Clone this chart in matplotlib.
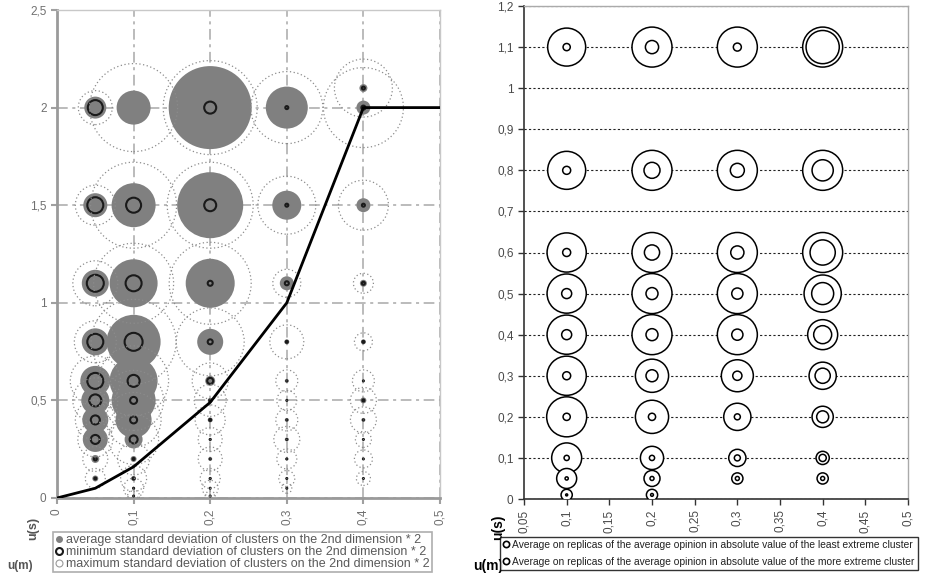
import numpy as np
import matplotlib.pyplot as plt
from matplotlib.lines import Line2D

plt.rcParams['font.family'] = ['Liberation Sans', 'DejaVu Sans']

# ---- left chart: std dev of clusters on 2nd dimension * 2 (bubble values) ----
left_um = [0.05, 0.1, 0.2, 0.3, 0.4]
left_us = [
    [2, 1.5, 1.1, 0.8, 0.6, 0.5, 0.4, 0.3, 0.2, 0.1],
    [2, 1.5, 1.1, 0.8, 0.6, 0.5, 0.4, 0.3, 0.2, 0.1, 0.05, 0.01],
    [2, 1.5, 1.1, 0.8, 0.6, 0.5, 0.4, 0.3, 0.2, 0.1, 0.05, 0.01],
    [2, 1.5, 1.1, 0.8, 0.6, 0.5, 0.4, 0.3, 0.2, 0.1, 0.05],
    [2.1, 2, 1.5, 1.1, 0.8, 0.6, 0.5, 0.4, 0.3, 0.2, 0.1],
]
avg_sd = [
    [0.22, 0.24, 0.27, 0.27, 0.30, 0.28, 0.26, 0.25, 0.08, 0.06],
    [0.34, 0.44, 0.48, 0.54, 0.48, 0.44, 0.36, 0.18, 0.06, 0.05, 0.03, 0.02],
    [0.83, 0.66, 0.49, 0.26, 0.10, 0.05, 0.05, 0.03, 0.04, 0.03, 0.02, 0.02],
    [0.42, 0.29, 0.14, 0.05, 0.04, 0.02, 0.04, 0.04, 0.03, 0.02, 0.02],
    [0.08, 0.14, 0.14, 0.07, 0.05, 0.02, 0.06, 0.04, 0.02, 0.01, 0.01],
]
min_sd = [
    [0.15, 0.16, 0.17, 0.16, 0.16, 0.12, 0.09, 0.09, 0.03, 0.02],
    [0.0, 0.15, 0.16, 0.18, 0.12, 0.07, 0.07, 0.08, 0.02, 0.02, 0.01, 0.01],
    [0.12, 0.12, 0.05, 0.05, 0.06, 0.02, 0.02, 0.01, 0.01, 0.01, 0.01, 0.01],
    [0.03, 0.03, 0.04, 0.02, 0.01, 0.01, 0.01, 0.01, 0.01, 0.01, 0.01],
    [0.03, 0.04, 0.03, 0.03, 0.02, 0.01, 0.02, 0.01, 0.01, 0.01, 0.01],
]
max_sd = [
    [0.34, 0.40, 0.45, 0.42, 0.50, 0.45, 0.40, 0.35, 0.25, 0.20],
    [0.88, 0.86, 0.80, 0.85, 0.70, 0.60, 0.55, 0.50, 0.32, 0.26, 0.20, 0.12],
    [0.94, 0.86, 0.82, 0.68, 0.36, 0.32, 0.30, 0.24, 0.24, 0.20, 0.16, 0.10],
    [0.72, 0.58, 0.28, 0.34, 0.22, 0.20, 0.22, 0.26, 0.20, 0.16, 0.10],
    [0.58, 0.80, 0.50, 0.20, 0.18, 0.22, 0.26, 0.26, 0.16, 0.18, 0.14],
]
border_um = [0, 0.05, 0.1, 0.2, 0.3, 0.4, 0.5]
border_us = [0, 0.05, 0.16, 0.49, 1.0, 2.0, 2.0]

# ---- right chart: average opinion in absolute value (bubble values) ----
right_um = [0.1, 0.2, 0.3, 0.4]
right_us = [
    [1.1, 0.8, 0.6, 0.5, 0.4, 0.3, 0.2, 0.1, 0.05, 0.01],
    [1.1, 0.8, 0.6, 0.5, 0.4, 0.3, 0.2, 0.1, 0.05, 0.01],
    [1.1, 0.8, 0.6, 0.5, 0.4, 0.3, 0.2, 0.1, 0.05],
    [1.1, 0.8, 0.6, 0.5, 0.4, 0.3, 0.2, 0.1, 0.05],
]
least_extreme = [
    [0.18, 0.20, 0.20, 0.25, 0.25, 0.20, 0.18, 0.13, 0.08, 0.05],
    [0.33, 0.40, 0.38, 0.30, 0.30, 0.30, 0.18, 0.13, 0.10, 0.07],
    [0.20, 0.35, 0.33, 0.28, 0.28, 0.23, 0.15, 0.15, 0.10],
    [0.83, 0.53, 0.63, 0.55, 0.45, 0.38, 0.30, 0.18, 0.10],
]
more_extreme = [
    [0.95, 0.95, 0.98, 0.98, 0.98, 0.98, 1.00, 0.75, 0.50, 0.28],
    [1.00, 1.00, 1.00, 1.00, 1.00, 0.83, 0.83, 0.58, 0.40, 0.28],
    [1.00, 1.00, 1.00, 1.00, 1.00, 0.80, 0.68, 0.43, 0.28],
    [1.00, 1.00, 1.00, 0.93, 0.75, 0.68, 0.53, 0.33, 0.28],
]

left_labels = ['average standard deviation of clusters on the 2nd dimension * 2',
               'minimum standard deviation of clusters on the 2nd dimension * 2',
               'maximum standard deviation of clusters on the 2nd dimension * 2']
right_labels = ['Average on replicas of the average opinion in absolute value of the least extreme cluster',
                'Average on replicas of the average opinion in absolute value of the more extreme cluster']


def area(vals, px):
    # bubble diameter in pixels -> scatter area in pt^2 (dpi 100)
    return (np.asarray(vals, dtype=float) * px * 0.72) ** 2


fig = plt.figure(figsize=(9.26, 5.76), dpi=100)

# ================= left =================
ax = fig.add_axes([57 / 926, 1 - 498 / 576, 383 / 926, 488 / 576])
grey_txt = '#707070'
for i, um in enumerate(left_um):
    xs = [um] * len(left_us[i])
    ax.scatter(xs, left_us[i], s=area(avg_sd[i], 100), color='#808080', lw=0, zorder=3)
for i, um in enumerate(left_um):
    xs = [um] * len(left_us[i])
    ax.scatter(xs, left_us[i], s=area(min_sd[i], 100), facecolors='none',
               edgecolors='#1a1a1a', linewidths=1.5, zorder=4)
for i, um in enumerate(left_um):
    xs = [um] * len(left_us[i])
    ax.scatter(xs, left_us[i], s=area(max_sd[i], 100), facecolors='none',
               edgecolors='#8c8c8c', linewidths=0.9, linestyles=(0, (1, 2)), zorder=5)
ax.plot(border_um, border_us, color='black', lw=2, zorder=6)

ax.set_xlim(0, 0.5)
ax.set_ylim(0, 2.5)
ax.set_xticks([0, 0.1, 0.2, 0.3, 0.4, 0.5])
ax.set_xticklabels(['0', '0,1', '0,2', '0,3', '0,4', '0,5'], rotation=90)
ax.set_yticks([0, 0.5, 1, 1.5, 2, 2.5])
ax.set_yticklabels(['0', '0,5', '1', '1,5', '2', '2,5'])
ax.tick_params(labelsize=8.5, colors='#a0a0a0', labelcolor=grey_txt, length=4, width=1.5)
ax.grid(True, color='#a8a8a8', lw=1.1, ls=(0, (7, 3, 2, 3)), zorder=1)
ax.set_axisbelow(True)
for side in ['left', 'bottom']:
    ax.spines[side].set_color('#9a9a9a')
    ax.spines[side].set_linewidth(2)
for side in ['top', 'right']:
    ax.spines[side].set_color('#c8c8c8')
    ax.spines[side].set_linewidth(1)

fig.text(33 / 926, 1 - 528 / 576, 'u(s)', rotation=90, ha='center', va='center',
         fontsize=9, fontweight='bold', color='#555555')
fig.text(20 / 926, 1 - 566 / 576, 'u(m)', ha='center', va='center',
         fontsize=8.5, fontweight='bold', color='#555555')

lh = [Line2D([], [], ls='none', marker='o', ms=4, mfc='#808080', mec='#808080'),
      Line2D([], [], ls='none', marker='o', ms=5, mfc='none', mec='#1a1a1a', mew=1.5),
      Line2D([], [], ls='none', marker='o', ms=5, mfc='none', mec='#9a9a9a', mew=0.8)]
leg = fig.legend(lh, left_labels, loc='upper left', bbox_to_anchor=(53 / 926, 1 - 532 / 576),
                 fontsize=9, frameon=True, fancybox=False, edgecolor='#9a9a9a',
                 borderpad=0.15, labelspacing=0.02, handlelength=0.6, handletextpad=0.3,
                 borderaxespad=0)
leg.get_frame().set_linewidth(1.2)
for t in leg.get_texts():
    t.set_color('#5a5a5a')

# ================= right =================
ax2 = fig.add_axes([524 / 926, 1 - 499 / 576, 384 / 926, 493 / 576])
for i, um in enumerate(right_um):
    xs = [um] * len(right_us[i])
    ax2.scatter(xs, right_us[i], s=area(more_extreme[i], 40), facecolors='white',
                edgecolors='black', linewidths=1.1, zorder=3)
    ax2.scatter(xs, right_us[i], s=area(least_extreme[i], 40), facecolors='none',
                edgecolors='black', linewidths=1.1, zorder=4)

ax2.set_xlim(0.05, 0.5)
ax2.set_ylim(0, 1.2)
xt = [0.05, 0.1, 0.15, 0.2, 0.25, 0.3, 0.35, 0.4, 0.45, 0.5]
ax2.set_xticks(xt)
ax2.set_xticklabels(['0,05', '0,1', '0,15', '0,2', '0,25', '0,3', '0,35', '0,4', '0,45', '0,5'],
                    rotation=90)
yt = [0, 0.1, 0.2, 0.3, 0.4, 0.5, 0.6, 0.7, 0.8, 0.9, 1, 1.1, 1.2]
ax2.set_yticks(yt)
ax2.set_yticklabels(['0', '0,1', '0,2', '0,3', '0,4', '0,5', '0,6', '0,7', '0,8', '0,9',
                     '1', '1,1', '1,2'])
ax2.tick_params(labelsize=8.5, colors='#333333', labelcolor='#4a4a4a', length=4, width=1)
ax2.yaxis.grid(True, color='#222222', lw=0.8, ls=(0, (2, 2)), zorder=1)
ax2.set_axisbelow(True)
for side in ['left', 'bottom']:
    ax2.spines[side].set_color('#333333')
    ax2.spines[side].set_linewidth(1.2)
for side in ['top', 'right']:
    ax2.spines[side].set_color('#aaaaaa')
    ax2.spines[side].set_linewidth(1)

fig.text(498 / 926, 1 - 527 / 576, 'u(s)', rotation=90, ha='center', va='center',
         fontsize=10, fontweight='bold', color='black')
fig.text(488 / 926, 1 - 566 / 576, 'u(m)', ha='center', va='center',
         fontsize=10, fontweight='bold', color='black')

rh = [Line2D([], [], ls='none', marker='o', ms=4.5, mfc='none', mec='black', mew=1.2),
      Line2D([], [], ls='none', marker='o', ms=4.5, mfc='none', mec='black', mew=1.2)]
leg2 = fig.legend(rh, right_labels, loc='upper left', bbox_to_anchor=(500 / 926, 1 - 537 / 576),
                  fontsize=7.4, frameon=True, fancybox=False, edgecolor='black',
                  borderpad=0.3, labelspacing=0.65, handlelength=0.6, handletextpad=0.3,
                  borderaxespad=0)
leg2.get_frame().set_linewidth(1)
for t in leg2.get_texts():
    t.set_color('#222222')

fig.savefig('out.png', dpi=100)
